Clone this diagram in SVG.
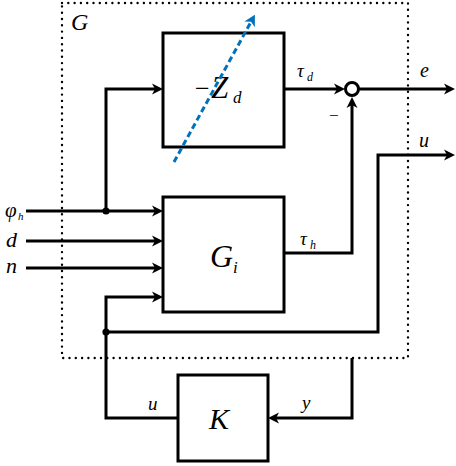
<svg xmlns="http://www.w3.org/2000/svg" width="456" height="466" viewBox="0 0 456 466">
<style>
.box{fill:none;stroke:#000;stroke-width:3}
.wire{fill:none;stroke:#000;stroke-width:3}
.t{font-family:'Liberation Serif','DejaVu Serif',serif;font-style:italic;fill:#000}
.up{font-family:'Liberation Serif','DejaVu Serif',serif;fill:#000}
</style>
<defs>
<marker id="ah" viewBox="-6 -7 14 14" refX="0" refY="0" markerWidth="14" markerHeight="14" markerUnits="userSpaceOnUse" orient="auto">
<path d="M6,0 L-5,-5.5 L-2,0 L-5,5.5 Z" fill="#000"/>
</marker>
<marker id="ahb" viewBox="-6 -7 14 14" refX="0" refY="0" markerWidth="14" markerHeight="14" markerUnits="userSpaceOnUse" orient="auto">
<path d="M6,0 L-5,-6 L-2,0 L-5,6 Z" fill="#0072BD"/>
</marker>
</defs>
<rect width="456" height="466" fill="#fff"/>
<g id="G">
<rect x="62" y="3" width="346" height="355" fill="none" stroke="#000" stroke-width="2.4" stroke-linecap="round" stroke-dasharray="0 6.3"/>
<text class="t" x="71" y="30" font-size="24">G</text>
</g>
<g id="connectors">
<path class="wire" d="M26,211 H157" marker-end="url(#ah)"/>
<path class="wire" d="M106,211 V89 H157" marker-end="url(#ah)"/>
<path class="wire" d="M26,241 H157" marker-end="url(#ah)"/>
<path class="wire" d="M26,268 H157" marker-end="url(#ah)"/>
<path class="wire" d="M178,418 H106 V297 H157" marker-end="url(#ah)"/>
<path class="wire" d="M106,332 H378 V155 H449" marker-end="url(#ah)"/>
<path class="wire" d="M284,89 H339" marker-end="url(#ah)"/>
<path class="wire" d="M359,89 H449" marker-end="url(#ah)"/>
<path class="wire" d="M284,253 H352 V103" marker-end="url(#ah)"/>
<path class="wire" d="M352,358 V418 H274" marker-end="url(#ah)"/>
<circle cx="106" cy="211" r="3.6" fill="#000"/>
<circle cx="106" cy="332" r="3.6" fill="#000"/>
<text class="t" x="297" y="77" font-size="19">τ</text>
<text class="t" x="307" y="81" font-size="12">d</text>
<text class="t" x="300" y="245" font-size="19">τ</text>
<text class="t" x="310" y="249" font-size="12">h</text>
<text class="t" x="420" y="77" font-size="20">e</text>
<text class="t" x="419" y="147" font-size="20">u</text>
<text class="up" x="329" y="121" font-size="17">−</text>
<text class="t" x="148" y="410" font-size="19">u</text>
<text class="t" x="302" y="409" font-size="19">y</text>
<text class="t" x="5" y="217" font-size="21">φ</text>
<text class="t" x="18" y="220" font-size="11">h</text>
<text class="t" x="6" y="247" font-size="22">d</text>
<text class="t" x="6" y="273" font-size="22">n</text>
</g>
<g id="sum">
<circle cx="352" cy="89" r="6.5" fill="#fff" stroke="#000" stroke-width="3"/>
</g>
<g id="Zd">
<rect class="box" x="163" y="33" width="121" height="114"/>
<text class="up" x="195" y="97" font-size="26">−</text>
<text class="t" x="211" y="98" font-size="31">Z</text>
<text class="t" x="233" y="103" font-size="17">d</text>
</g>
<g id="Gi">
<rect class="box" x="163" y="197" width="121" height="115"/>
<text class="t" x="210" y="267" font-size="32">G</text>
<text class="t" x="233" y="273" font-size="17">i</text>
</g>
<g id="K">
<rect class="box" x="178" y="375" width="90" height="86"/>
<text class="t" x="209" y="429" font-size="30">K</text>
</g>
<g id="uncertainty">
<path d="M174,162 L252,20" fill="none" stroke="#0072BD" stroke-width="3" stroke-dasharray="6 3.5" marker-end="url(#ahb)"/>
</g>
</svg>
